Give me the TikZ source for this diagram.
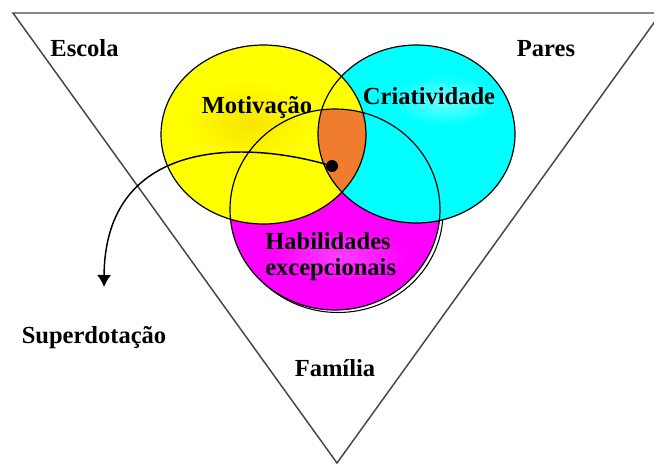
\documentclass[tikz,border=0pt]{standalone}
\usepackage{fontspec}
\setmainfont{Liberation Serif}
\usetikzlibrary{arrows.meta}
\definecolor{vennyellow}{RGB}{255,255,0}
\definecolor{venngold}{RGB}{248,228,0}
\definecolor{venncyan}{RGB}{0,255,255}
\definecolor{vennmagenta}{RGB}{255,0,255}
\definecolor{vennorange}{RGB}{240,125,45}
\definecolor{edgegray}{RGB}{70,70,70}

\begin{document}
\begin{tikzpicture}[x=0.75pt, y=-0.75pt,
    lbl/.style={font=\fontsize{18.4}{19.5}\selectfont\bfseries, inner sep=0pt},
    ring/.style={line width=0.9pt, draw=black}]
			%%%%% START %%%%%
			
			\useasboundingbox (0, 0) rectangle (654, 465);
			\clip (0, 0) rectangle (654, 465);
			
			\draw[line width=1.1pt, color=edgegray] (13, 13) -- (661, 13) -- (337, 463) -- cycle;
			
			\draw[line width=0.8pt] (338, 212) ellipse (105 and 100.5);
			\fill[vennmagenta] (335, 209.5) ellipse (105 and 100.5);
			\shade[inner color=vennmagenta!75!white, outer color=vennmagenta] (340, 256) ellipse (68 and 26);
			
			\fill[venncyan] (416.5, 134) ellipse (98.5 and 89);
			\shade[inner color=venncyan!55!white, outer color=venncyan] (445, 100) ellipse (55 and 25);
			
			\fill[vennyellow] (263.5, 134.5) ellipse (102.5 and 89.5);
			\shade[inner color=venngold, outer color=vennyellow] (248, 122) ellipse (66 and 42);
			
			\begin{scope}
				\clip (263.5, 134.5) ellipse (102.5 and 89.5);
				\clip (416.5, 134) ellipse (98.5 and 89);
				\fill[vennorange] (335, 209.5) ellipse (105 and 100.5);
			\end{scope}
			
			\draw[ring] (335, 209.5) ellipse (105 and 100.5);
			\draw[ring] (416.5, 134) ellipse (98.5 and 89);
			\draw[ring] (263.5, 134.5) ellipse (102.5 and 89.5);
			
			\node[circle, fill=black, inner sep=0pt, minimum size=9pt] (dot) at (332, 166) {};
			\coordinate (tip) at (104, 287);
			\draw[line width=1.1pt, -{Latex[length=9pt, width=10.5pt]}] (dot) .. controls (240, 140) and (105, 140) .. (tip);
			
			\node[lbl, anchor=base] (escola) at (84.5, 56.7) {Escola};
			\node[lbl, anchor=base] (pares) at (546, 56) {Pares};
			\node[lbl, anchor=base] (motivacao) at (257, 113.3) {Motivação};
			\node[lbl, anchor=base] (criatividade) at (429, 104) {Criatividade};
			\node[lbl, anchor=base west, align=left] (habilidades) at (265, 275) {Habilidades\\excepcionais};
			\node[lbl, anchor=base] (superdotacao) at (94, 343) {Superdotação};
			\node[lbl, anchor=base] (familia) at (335, 376.7) {Família};
			
			%%%%% END %%%%%
		\end{tikzpicture}
\end{document}
